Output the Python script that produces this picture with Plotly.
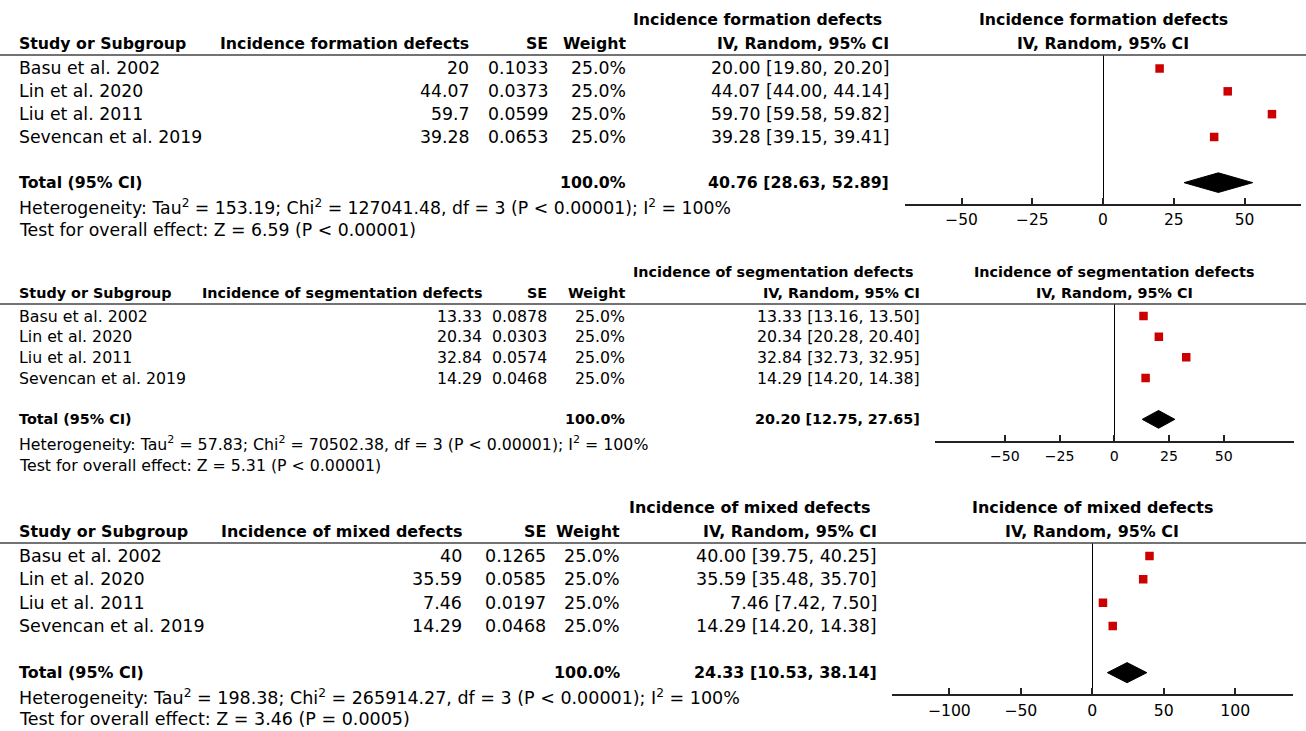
import plotly.graph_objects as go

W, H = 1306, 731
FONT = "DejaVu Sans"
REG = 17.3
BOLD = 15.75
TICK = 15.5

studies = ["Basu et al. 2002", "Lin et al. 2020", "Liu et al. 2011", "Sevencan et al. 2019"]
weights = ["25.0%", "25.0%", "25.0%", "25.0%"]

# formation defects
form_est = [20, 44.07, 59.7, 39.28]
form_se = ["0.1033", "0.0373", "0.0599", "0.0653"]
form_lo = [19.80, 44.00, 59.58, 39.15]
form_hi = [20.20, 44.14, 59.82, 39.41]
form_total = [40.76, 28.63, 52.89]
form_stats = ["153.19", "127041.48", "6.59", "P < 0.00001"]
form_ticks = [-50, -25, 0, 25, 50]

# segmentation defects
seg_est = [13.33, 20.34, 32.84, 14.29]
seg_se = ["0.0878", "0.0303", "0.0574", "0.0468"]
seg_lo = [13.16, 20.28, 32.73, 14.20]
seg_hi = [13.50, 20.40, 32.95, 14.38]
seg_total = [20.20, 12.75, 27.65]
seg_stats = ["57.83", "70502.38", "5.31", "P < 0.00001"]
seg_ticks = [-50, -25, 0, 25, 50]

# mixed defects
mix_est = [40, 35.59, 7.46, 14.29]
mix_se = ["0.1265", "0.0585", "0.0197", "0.0468"]
mix_lo = [39.75, 35.48, 7.42, 14.20]
mix_hi = [40.25, 35.70, 7.50, 14.38]
mix_total = [24.33, 10.53, 38.14]
mix_stats = ["198.38", "265914.27", "3.46", "P = 0.0005"]
mix_ticks = [-100, -50, 0, 50, 100]

panels = [
    dict(title="Incidence formation defects", eff_hdr="Incidence formation defects",
         est=form_est, se=form_se, lo=form_lo, hi=form_hi, total=form_total,
         stats=form_stats, ticks=form_ticks, s=1.0,
         h1=20, h2=43, line=55, row0=68.5, sp=22.83, het=207, test=230, axis=204,
         c_eff=471, c_se=550, c_w=628, c_ci=891, zero=1103, xr=70, ppu=2.83),
    dict(title="Incidence of segmentation defects", eff_hdr="Incidence of segmentation defects",
         est=seg_est, se=seg_se, lo=seg_lo, hi=seg_hi, total=seg_total,
         stats=seg_stats, ticks=seg_ticks, s=0.912,
         h1=272, h2=293, line=304, row0=316, sp=20.67, het=443, test=465, axis=441,
         c_eff=484, c_se=549, c_w=627, c_ci=922, zero=1114.3, xr=82, ppu=2.19),
    dict(title="Incidence of mixed defects", eff_hdr="Incidence of mixed defects",
         est=mix_est, se=mix_se, lo=mix_lo, hi=mix_hi, total=mix_total,
         stats=mix_stats, ticks=mix_ticks, s=1.012,
         h1=507, h2=531, line=543, row0=556, sp=23.33, het=697, test=719, axis=694,
         c_eff=464, c_se=548, c_w=622, c_ci=879, zero=1092.3, xr=140, ppu=1.43),
]

TOTAL_ROW = 5
fig = go.Figure()
annotations = []
shapes = []


def txt(x, y, s, scale, anchor="left", bold=False):
    size = (BOLD if bold else REG) * scale
    annotations.append(dict(
        x=x / W, y=1 - y / H, xref="paper", yref="paper",
        text=f"<b>{s}</b>" if bold else s, showarrow=False,
        xanchor=anchor, yanchor="middle",
        font=dict(family=FONT, size=size, color="black")))


for i, p in enumerate(panels):
    n = i + 1
    sc = p["s"]
    xa = "x" if n == 1 else f"x{n}"
    ya = "y" if n == 1 else f"y{n}"
    rows = list(range(len(studies)))
    row_px = [p["row0"] + p["sp"] * r for r in rows]
    total_px = p["row0"] + p["sp"] * TOTAL_ROW

    # header texts
    txt(p["c_ci"] - 7, p["h1"], p["title"], sc, "right", True)
    txt(17, p["h2"], "Study or Subgroup", sc, "left", True)
    txt(p["c_eff"], p["h2"], p["eff_hdr"], sc, "right", True)
    txt(p["c_se"], p["h2"], "SE", sc, "right", True)
    txt(p["c_w"], p["h2"], "Weight", sc, "right", True)
    txt(p["c_ci"], p["h2"], "IV, Random, 95% CI", sc, "right", True)
    txt(p["zero"], p["h1"], p["title"], sc, "center", True)
    txt(p["zero"], p["h2"], "IV, Random, 95% CI", sc, "center", True)
    shapes.append(dict(type="line", xref="paper", yref="paper", x0=0, x1=1,
                       y0=1 - p["line"] / H, y1=1 - p["line"] / H,
                       line=dict(color="#444", width=1.6)))

    for r, name in enumerate(studies):
        y = row_px[r]
        txt(17, y, name, sc, "left")
        txt(p["c_eff"], y, str(p["est"][r]), sc, "right")
        txt(p["c_se"], y, p["se"][r], sc, "right")
        txt(p["c_w"], y, weights[r], sc, "right")
        txt(p["c_ci"], y, f"{p['est'][r]:.2f} [{p['lo'][r]:.2f}, {p['hi'][r]:.2f}]", sc, "right")

    te, tl, th = p["total"]
    txt(17, total_px, "Total (95% CI)", sc, "left", True)
    txt(p["c_w"], total_px, "100.0%", sc, "right", True)
    txt(p["c_ci"], total_px, f"{te:.2f} [{tl:.2f}, {th:.2f}]", sc, "right", True)
    tau, chi, z, pv = p["stats"]
    txt(17, p["het"], f"Heterogeneity: Tau<sup>2</sup> = {tau}; Chi<sup>2</sup> = {chi}, df = 3 (P &lt; 0.00001); I<sup>2</sup> = 100%", sc, "left")
    txt(17, p["test"], f"Test for overall effect: Z = {z} ({pv.replace('<', '&lt;')})", sc, "left")

    # study markers
    fig.add_trace(go.Scatter(
        x=p["est"], y=rows, mode="markers", xaxis=xa, yaxis=ya,
        marker=dict(symbol="square", size=8.5, color="#cc0000", line=dict(width=0)),
        error_x=dict(type="data", symmetric=False,
                     array=[h - e for h, e in zip(p["hi"], p["est"])],
                     arrayminus=[e - l for e, l in zip(p["est"], p["lo"])],
                     color="black", thickness=1, width=0),
        showlegend=False, hoverinfo="skip"))
    # pooled diamond
    hh = 0.43
    fig.add_trace(go.Scatter(
        x=[tl, te, th, te, tl], y=[TOTAL_ROW, TOTAL_ROW - hh, TOTAL_ROW, TOTAL_ROW + hh, TOTAL_ROW],
        mode="lines", fill="toself", fillcolor="black", line=dict(color="black", width=1),
        xaxis=xa, yaxis=ya, showlegend=False, hoverinfo="skip"))

    x0 = (p["zero"] - p["xr"] * p["ppu"]) / W
    x1 = (p["zero"] + p["xr"] * p["ppu"]) / W
    y_bot = (p["axis"] - p["row0"]) / p["sp"]
    y_top = (p["line"] - p["row0"]) / p["sp"]
    xkey = "xaxis" if n == 1 else f"xaxis{n}"
    ykey = "yaxis" if n == 1 else f"yaxis{n}"
    fig.update_layout(**{
        xkey: dict(domain=[x0, min(x1, 1)], anchor=ya, range=[-p["xr"], p["xr"]],
                   showline=True, linecolor="#222", linewidth=1.5,
                   ticks="inside", ticklen=6, tickwidth=1.5, tickcolor="#222",
                   tickvals=p["ticks"], showgrid=False,
                   zeroline=True, zerolinecolor="black", zerolinewidth=1,
                   tickfont=dict(family=FONT, size=TICK * sc, color="black"),
                   ticklabelstandoff=1, fixedrange=True),
        ykey: dict(domain=[1 - p["axis"] / H, 1 - p["line"] / H], anchor=xa,
                   range=[y_bot, y_top], showline=False, showticklabels=False,
                   ticks="", showgrid=False, zeroline=False, fixedrange=True),
    })

fig.update_layout(width=W, height=H, autosize=False,
                  margin=dict(l=0, r=0, t=0, b=0),
                  paper_bgcolor="white", plot_bgcolor="white",
                  annotations=annotations, shapes=shapes)

fig.write_html("out.html", config={"displayModeBar": False},
               post_script="document.body.style.margin='0';document.body.style.overflow='hidden';")
